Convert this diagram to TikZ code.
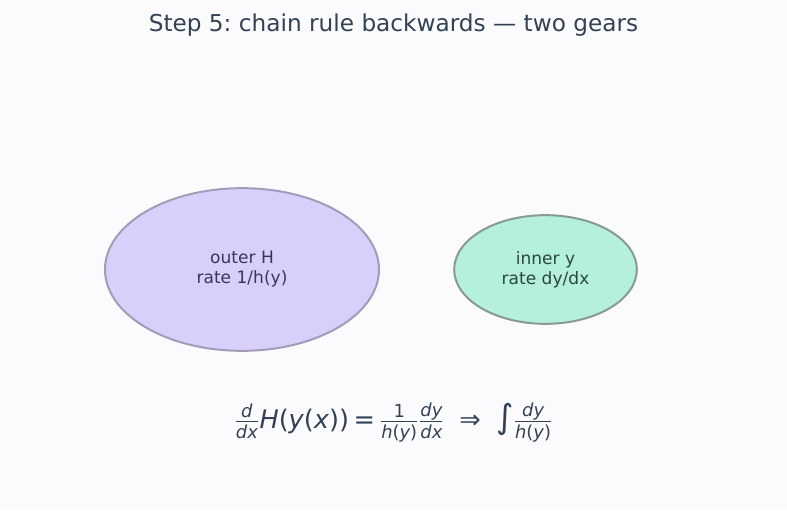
\documentclass[tikz,border=0pt]{standalone}
\usepackage{amsmath}
\usepackage{fontspec}
\setmainfont{DejaVu Sans}
\frenchspacing
\usetikzlibrary{shapes.geometric}
\definecolor{bg}{HTML}{FBFBFE}
\definecolor{ink}{HTML}{334155}
\definecolor{lavfill}{HTML}{D9CFFB}
\definecolor{lavline}{HTML}{A49CB6}
\definecolor{lavtext}{HTML}{3B3560}
\definecolor{mintfill}{HTML}{B4F0DC}
\definecolor{mintline}{HTML}{889A94}
\definecolor{minttext}{HTML}{2A4740}
\newcommand\mi[1]{\text{\itshape #1}}
\tikzset{
  gear/.style={ellipse, line width=1.5pt, inner sep=0pt, align=center, font=\fontsize{12.8}{15}\selectfont},
}
\begin{document}
\begin{tikzpicture}[x=0.75pt,y=-0.75pt]
\fill[bg] (0,0) rectangle (787,510);
\useasboundingbox (0,0) rectangle (787,510);
\node[text=ink, font=\fontsize{17.4}{20}\selectfont] (title) at (393.5,25) {Step 5: chain rule backwards — two gears};
\node[gear, draw=lavline, fill=lavfill, text=lavtext, minimum width=205.5pt, minimum height=122pt] (outer) at (242,269.5) {outer H\\rate 1/h(y)};
\node[gear, draw=mintline, fill=mintfill, text=minttext, minimum width=137pt, minimum height=81.5pt] (inner) at (545.5,269.5) {inner y\\rate dy/dx};
\node[text=ink, font=\fontsize{19.2}{22}\selectfont] (formula) at (393.5,422.5) {$\frac{\mi{d}}{\mi{dx}}\mi{H}\text{(}\mi{y}\text{(}\mi{x}\text{))}\,\text{=}\,\frac{\text{1}}{\mi{h}\text{(}\mi{y}\text{)}}\frac{\mi{dy}}{\mi{dx}}\;\;\text{⇒}\;\;\text{\fontsize{25}{25}\selectfont ∫}\frac{\mi{dy}}{\mi{h}\text{(}\mi{y}\text{)}}$};
\end{tikzpicture}
\end{document}
